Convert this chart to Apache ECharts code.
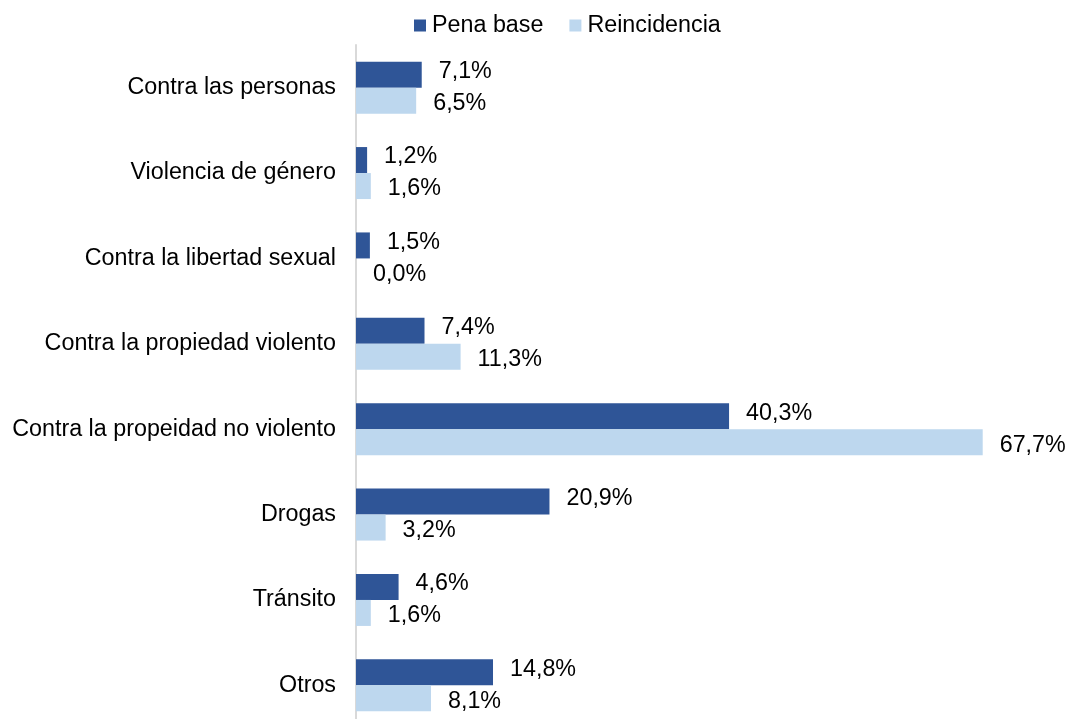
<!DOCTYPE html>
<html><head><meta charset="utf-8">
<script src="https://cdn.jsdelivr.net/npm/echarts@6/dist/echarts.min.js"></script>
<style>html,body{margin:0;padding:0;background:#fff}#c{width:1070px;height:719px}</style>
</head><body><div id="c"></div>
<script>
const categories = ["Contra las personas","Violencia de género","Contra la libertad sexual","Contra la propiedad violento","Contra la propeidad no violento","Drogas","Tránsito","Otros"];
const penaBase = [7.1,1.2,1.5,7.4,40.3,20.9,4.6,14.8];
const reincidencia = [6.5,1.6,0.0,11.3,67.7,3.2,1.6,8.1];
const seriesNames = ["Pena base","Reincidencia"];
const colors = ["#2F5597","#BDD7EE"];
const FONT = "Liberation Sans, Arial, sans-serif";
const FS = 23.3;
const fmt = p => p.value.toFixed(1).replace('.', ',') + '%';
const chart = echarts.init(document.getElementById('c'));
chart.setOption({
  animation:false,
  legend:{left:414,top:14,padding:0,itemWidth:12,itemHeight:12,itemGap:26,icon:'rect',
    textStyle:{fontFamily:FONT,fontSize:FS,color:'#000',padding:[0,0,0,1]},data:seriesNames},
  grid:{left:356,top:45,width:648,height:683,containLabel:false,outerBoundsMode:'none'},
  xAxis:{type:'value',min:0,max:70,show:false},
  yAxis:{type:'category',inverse:true,data:categories,
    axisLine:{show:true,lineStyle:{color:'#d9d9d9',width:2}},axisTick:{show:false},
    axisLabel:{fontFamily:FONT,fontSize:FS,color:'#000',margin:20}},
  series:[
    {name:seriesNames[0],type:'bar',data:penaBase,barWidth:26,barGap:'0%',itemStyle:{color:colors[0]},
     label:{show:true,position:'right',distance:17,offset:[0,-3],formatter:fmt,fontFamily:FONT,fontSize:FS,color:'#000'}},
    {name:seriesNames[1],type:'bar',data:reincidencia,barWidth:26,itemStyle:{color:colors[1]},
     label:{show:true,position:'right',distance:17,offset:[0,3],formatter:fmt,fontFamily:FONT,fontSize:FS,color:'#000'}}
  ]
});
</script></body></html>
